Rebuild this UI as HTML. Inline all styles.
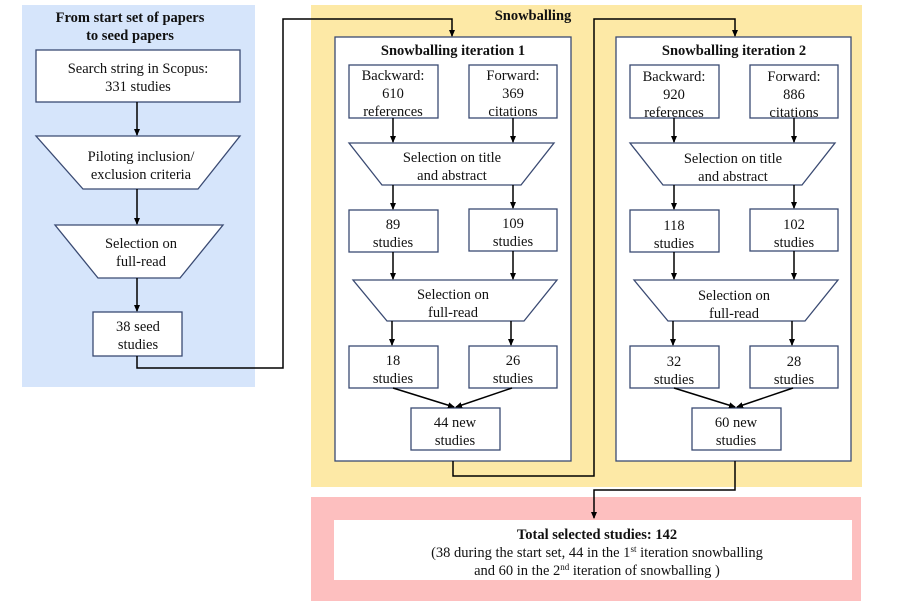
<!DOCTYPE html>
<html><head><meta charset="utf-8"><style>body{margin:0;background:#fff}svg{display:block}text{font-family:"Liberation Serif",serif;font-size:14.5px;fill:#111}</style></head><body>
<svg width="897" height="609" viewBox="0 0 897 609" xmlns="http://www.w3.org/2000/svg">
<defs><marker id="a" markerWidth="8" markerHeight="8" refX="6" refY="4" orient="auto" markerUnits="userSpaceOnUse"><path d="M0,1 L7,4 L0,7 z" fill="#000"/></marker></defs>
<rect x="22" y="5" width="233" height="382" fill="#d6e5fb"/>
<rect x="311" y="5" width="551" height="482" fill="#fde9a6"/>
<rect x="311" y="497" width="550" height="104" fill="#fdbfbf"/>
<rect x="334" y="520" width="518" height="60" fill="#fff"/>
<g stroke="#3a4a72" stroke-width="1.3" fill="#fff">
<rect x="335" y="37" width="236" height="424"/>
<rect x="616" y="37" width="235" height="424"/>
<rect x="36" y="50" width="204" height="52"/>
<polygon points="36,136 240,136 198,189 83,189"/>
<polygon points="55,225 223,225 180,278 98,278"/>
<rect x="93" y="312" width="89" height="44"/>
<g id="it">
<rect x="349" y="65" width="89" height="53"/>
<rect x="469" y="65" width="88" height="53"/>
<polygon points="349,143 554,143 521,185 382,185"/>
<rect x="349" y="210" width="89" height="42"/>
<rect x="469" y="209" width="88" height="42"/>
<polygon points="353,280 557,280 524,321 387,321"/>
<rect x="349" y="346" width="89" height="42"/>
<rect x="469" y="346" width="88" height="42"/>
<rect x="411" y="408" width="89" height="42"/>
</g>
<use href="#it" x="281"/>
</g>
<g stroke="#000" stroke-width="1.5" fill="none" marker-end="url(#a)">
<path d="M137,102 V135"/><path d="M137,189 V224"/><path d="M137,278 V311"/>
<path d="M137,356 V368 H283 V19 H452 V36"/>
<path d="M453,461 V476 H594 V19 H735 V36"/>
<path d="M735,461 V490 H594 V518"/>
<g id="ar">
<path d="M393,118 V142"/><path d="M513,118 V142"/>
<path d="M393,185 V209"/><path d="M513,185 V208"/>
<path d="M393,252 V279"/><path d="M513,251 V279"/>
<path d="M392,321 V345"/><path d="M511,321 V345"/>
<path d="M393,388 L454,407"/><path d="M512,388 L456,407"/>
</g>
<use href="#ar" x="281"/>
</g>
<g text-anchor="middle">
<text x="130" y="22" font-weight="bold">From start set of papers</text>
<text x="130" y="40" font-weight="bold">to seed papers</text>
<text x="138" y="73">Search string in Scopus:</text><text x="138" y="91">331 studies</text>
<text x="141" y="161">Piloting inclusion/</text><text x="141" y="179">exclusion criteria</text>
<text x="141" y="248">Selection on</text><text x="141" y="266">full-read</text>
<text x="138" y="331">38 seed</text><text x="138" y="349">studies</text>
<text x="533" y="20" font-weight="bold">Snowballing</text>
<text x="453" y="55" font-weight="bold">Snowballing iteration 1</text>
<text x="393" y="80">Backward:</text><text x="393" y="98">610</text><text x="393" y="116">references</text>
<text x="513" y="80">Forward:</text><text x="513" y="98">369</text><text x="513" y="116">citations</text>
<text x="452" y="162">Selection on title</text><text x="452" y="180">and abstract</text>
<text x="393" y="229">89</text><text x="393" y="247">studies</text>
<text x="513" y="228">109</text><text x="513" y="246">studies</text>
<text x="453" y="299">Selection on</text><text x="453" y="317">full-read</text>
<text x="393" y="365">18</text><text x="393" y="383">studies</text>
<text x="513" y="365">26</text><text x="513" y="383">studies</text>
<text x="455" y="427">44 new</text><text x="455" y="445">studies</text>
<text x="734" y="55" font-weight="bold">Snowballing iteration 2</text>
<text x="674" y="81">Backward:</text><text x="674" y="99">920</text><text x="674" y="117">references</text>
<text x="794" y="81">Forward:</text><text x="794" y="99">886</text><text x="794" y="117">citations</text>
<text x="733" y="163">Selection on title</text><text x="733" y="181">and abstract</text>
<text x="674" y="230">118</text><text x="674" y="248">studies</text>
<text x="794" y="229">102</text><text x="794" y="247">studies</text>
<text x="734" y="300">Selection on</text><text x="734" y="318">full-read</text>
<text x="674" y="366">32</text><text x="674" y="384">studies</text>
<text x="794" y="366">28</text><text x="794" y="384">studies</text>
<text x="736" y="427">60 new</text><text x="736" y="445">studies</text>
<text x="597" y="539" font-weight="bold">Total selected studies: 142</text>
<text x="597" y="557">(38 during the start set, 44 in the 1<tspan font-size="9" dy="-5">st</tspan><tspan dy="5"> iteration snowballing</tspan></text>
<text x="597" y="575">and 60 in the 2<tspan font-size="9" dy="-5">nd</tspan><tspan dy="5"> iteration of snowballing )</tspan></text>
</g>
</svg>
</body></html>
